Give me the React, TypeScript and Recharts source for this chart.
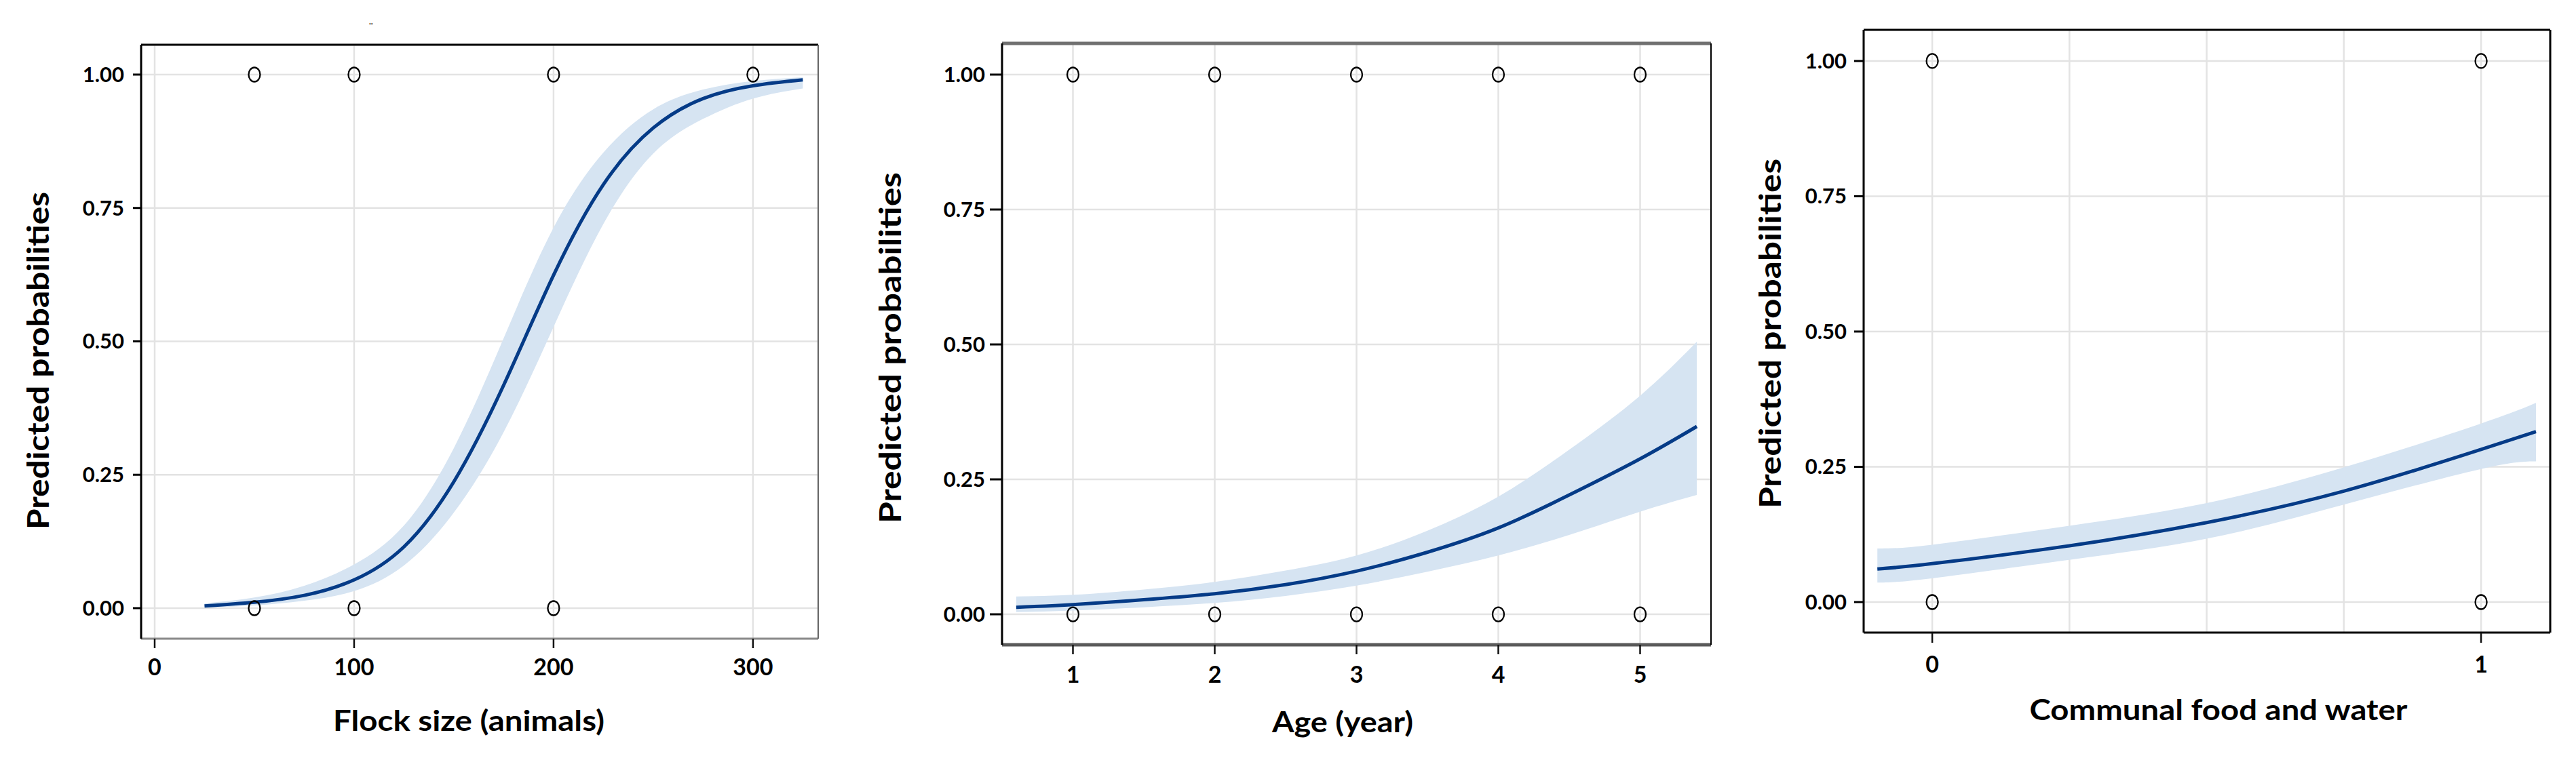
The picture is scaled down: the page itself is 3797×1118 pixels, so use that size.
import React from 'react';
import { ComposedChart, Line, Area, Scatter, XAxis, YAxis, CartesianGrid, ReferenceLine, Label } from 'recharts';

const FONT = 'Lato, "Open Sans", "DejaVu Sans", sans-serif';

// ---------- Panel 1: Flock size ----------
const flockX = [25, 50, 75, 100, 125, 150, 175, 200, 225, 250, 275, 300, 325];
const flockP = [0.004, 0.011, 0.024, 0.053, 0.115, 0.237, 0.418, 0.624, 0.794, 0.9, 0.955, 0.979, 0.99];
const flockLo = [0.001, 0.005, 0.014, 0.032, 0.08, 0.179, 0.33, 0.527, 0.72, 0.852, 0.917, 0.955, 0.974];
const flockHi = [0.009, 0.02, 0.042, 0.082, 0.155, 0.3, 0.506, 0.713, 0.854, 0.935, 0.972, 0.988, 0.995];
const flockObsX = [50, 100, 200, 300, 50, 100, 200];
const flockObsY = [1, 1, 1, 1, 0, 0, 0];
const flockTicks = [0, 100, 200, 300];
const flockTickLabels = ['0', '100', '200', '300'];

// ---------- Panel 2: Age ----------
const ageX = [0.6, 1, 1.5, 2, 2.5, 3, 3.5, 4, 4.5, 5, 5.4];
const ageP = [0.013, 0.018, 0.027, 0.038, 0.055, 0.08, 0.115, 0.16, 0.221, 0.288, 0.348];
const ageLo = [0.004, 0.007, 0.013, 0.021, 0.034, 0.053, 0.079, 0.109, 0.147, 0.19, 0.221];
const ageHi = [0.033, 0.036, 0.046, 0.06, 0.081, 0.109, 0.155, 0.218, 0.305, 0.405, 0.505];
const ageObsX = [1, 2, 3, 4, 5, 1, 2, 3, 4, 5];
const ageObsY = [1, 1, 1, 1, 1, 0, 0, 0, 0, 0];
const ageTicks = [1, 2, 3, 4, 5];
const ageTickLabels = ['1', '2', '3', '4', '5'];

// ---------- Panel 3: Communal food and water ----------
const commX = [-0.1, 0, 0.25, 0.5, 0.75, 1, 1.1];
const commP = [0.061, 0.071, 0.104, 0.147, 0.205, 0.282, 0.315];
const commLo = [0.036, 0.044, 0.078, 0.117, 0.18, 0.246, 0.26];
const commHi = [0.099, 0.106, 0.141, 0.183, 0.249, 0.33, 0.368];
const commObsX = [0, 1, 0, 1];
const commObsY = [1, 1, 0, 0];
const commTicks = [0, 0.25, 0.5, 0.75, 1];
const commTickLabels = ['0', '', '', '', '1'];

// ---------- shared ----------
const probTicks = [0, 0.25, 0.5, 0.75, 1];
const probLabels = ['0.00', '0.25', '0.50', '0.75', '1.00'];
const yTitleText = 'Predicted probabilities';

const buildCurve = (xs: number[], p: number[], lo: number[], hi: number[]) =>
  xs.map((x, i) => ({ x, p: p[i], band: [lo[i], hi[i]] }));
const buildPoints = (xs: number[], ys: number[]) => xs.map((x, i) => ({ x, y: ys[i] }));

const Ring = (props: any) => (
  <ellipse cx={props.cx} cy={props.cy} rx={8.5} ry={10.5} fill="none" stroke="#000" strokeWidth={2.3} />
);

type Edge = { c: string; w: number };
type Cfg = {
  left: number; width: number; L: number; R: number; T: number; B: number;
  xDomain: [number, number]; yDomain: [number, number];
  yTickSize: number; yTickMargin: number; xTickSize: number; xTickMargin: number;
  yTitleX: number; yTitleY: number; yTitleLen: number;
  xTitle: string; xTitleX: number; xTitleY: number; xTitleLen: number;
  frame: { top: Edge; bottom: Edge; left: Edge; right: Edge };
};

const cfg1: Cfg = {
  left: 0, width: 1250, L: 208, R: 1206, T: 66, B: 942,
  xDomain: [-6.8, 332.7], yDomain: [-0.0572, 1.0559],
  yTickSize: 12, yTickMargin: 13, xTickSize: 14, xTickMargin: 16,
  yTitleX: 72, yTitleY: 532, yTitleLen: 498,
  xTitle: 'Flock size (animals)', xTitleX: 691, xTitleY: 1078, xTitleLen: 400,
  frame: { top: { c: '#000', w: 3 }, left: { c: '#000', w: 3 }, right: { c: '#666', w: 2 }, bottom: { c: '#8a8a8a', w: 3 } },
};
const cfg2: Cfg = {
  left: 1250, width: 1280, L: 1477, R: 2522, T: 64, B: 951,
  xDomain: [0.5, 5.5], yDomain: [-0.0565, 1.0578],
  yTickSize: 18, yTickMargin: 7, xTickSize: 14, xTickMargin: 18,
  yTitleX: 78, yTitleY: 513, yTitleLen: 518,
  xTitle: 'Age (year)', xTitleX: 729, xTitleY: 1080, xTitleLen: 208,
  frame: { top: { c: '#707070', w: 5 }, left: { c: '#000', w: 3 }, right: { c: '#000', w: 2 }, bottom: { c: '#5a5a5a', w: 5 } },
};
const cfg3: Cfg = {
  left: 2540, width: 1257, L: 2747, R: 3759, T: 44, B: 933,
  xDomain: [-0.125, 1.126], yDomain: [-0.0564, 1.0576],
  yTickSize: 14, yTickMargin: 11, xTickSize: 15, xTickMargin: 20,
  yTitleX: 85, yTitleY: 492, yTitleLen: 516,
  xTitle: 'Communal food and water', xTitleX: 730, xTitleY: 1062, xTitleLen: 557,
  frame: { top: { c: '#000', w: 3 }, left: { c: '#000', w: 3 }, right: { c: '#000', w: 3 }, bottom: { c: '#000', w: 3 } },
};

function Panel({ cfg, curve, points, xTicks, xTickLabels }: any) {
  const c: Cfg = cfg;
  const H = 1118;
  const yAxisW = c.L - c.left;
  const xAxisH = H - c.B;
  const right = c.left + c.width - c.R;

  const YTick = (props: any) => {
    const idx = probTicks.indexOf(props.payload.value);
    return (
      <text x={props.x} y={props.y} dy={11} textAnchor="end" fontFamily={FONT} fontWeight={700} fontSize={31} fill="#000">
        {idx >= 0 ? probLabels[idx] : ''}
      </text>
    );
  };
  const XTick = (props: any) => {
    const idx = xTicks.indexOf(props.payload.value);
    const lab = idx >= 0 ? xTickLabels[idx] : '';
    if (!lab) return <g />;
    const yTop = props.y - c.xTickMargin - c.xTickSize;
    return (
      <g>
        <line x1={props.x} x2={props.x} y1={yTop} y2={yTop + c.xTickSize} stroke="#111" strokeWidth={2.5} />
        <text x={props.x} y={props.y} dy={24} textAnchor="middle" fontFamily={FONT} fontWeight={700} fontSize={34} fill="#000">
          {lab}
        </text>
      </g>
    );
  };
  const yTitle = () => {
    const x = c.yTitleX;
    const y = c.yTitleY;
    return (
      <text x={x} y={y} transform={`rotate(-90 ${x} ${y})`} textAnchor="middle" fontFamily={FONT} fontWeight={700}
        fontSize={44} fill="#000" textLength={c.yTitleLen} lengthAdjust="spacingAndGlyphs">
        {yTitleText}
      </text>
    );
  };
  const xTitle = () => (
    <text x={c.xTitleX} y={c.xTitleY} textAnchor="middle" fontFamily={FONT} fontWeight={700} fontSize={42} fill="#000"
      textLength={c.xTitleLen} lengthAdjust="spacingAndGlyphs">
      {c.xTitle}
    </text>
  );

  return (
    <div style={{ position: 'absolute', left: c.left, top: 0, width: c.width, height: H }}>
      <ComposedChart width={c.width} height={H} data={curve} margin={{ top: c.T, right, bottom: 0, left: 0 }}>
        <CartesianGrid stroke="#e3e3e3" strokeWidth={2.5} />
        <XAxis type="number" dataKey="x" domain={c.xDomain} ticks={xTicks} interval={0} allowDataOverflow
          height={xAxisH} axisLine={false} tickLine={false} tickSize={c.xTickSize} tickMargin={c.xTickMargin} tick={XTick}>
          <Label content={xTitle} />
        </XAxis>
        <YAxis type="number" domain={c.yDomain} ticks={probTicks} interval={0} allowDataOverflow width={yAxisW}
          axisLine={false} tickLine={{ stroke: '#000', strokeWidth: 3 }} tickSize={c.yTickSize} tickMargin={c.yTickMargin} tick={YTick}>
          <Label content={yTitle} />
        </YAxis>
        <Area dataKey="band" type="natural" stroke="none" fill="#d6e4f2" fillOpacity={1} isAnimationActive={false} />
        <Scatter data={points} dataKey="y" shape={Ring} isAnimationActive={false} />
        <Line dataKey="p" type="natural" stroke="#053b87" strokeWidth={5} dot={false} activeDot={false} isAnimationActive={false} />
        <ReferenceLine y={c.yDomain[1]} stroke={c.frame.top.c} strokeWidth={c.frame.top.w} />
        <ReferenceLine y={c.yDomain[0]} stroke={c.frame.bottom.c} strokeWidth={c.frame.bottom.w} />
        <ReferenceLine x={c.xDomain[0]} stroke={c.frame.left.c} strokeWidth={c.frame.left.w} />
        <ReferenceLine x={c.xDomain[1]} stroke={c.frame.right.c} strokeWidth={c.frame.right.w} />
      </ComposedChart>
    </div>
  );
}

export default function App() {
  const curve1 = buildCurve(flockX, flockP, flockLo, flockHi);
  const curve2 = buildCurve(ageX, ageP, ageLo, ageHi);
  const curve3 = buildCurve(commX, commP, commLo, commHi);
  return (
    <div style={{ position: 'absolute', left: 0, top: 0, width: 3797, height: 1118, background: '#fff', overflow: 'hidden' }}>
      <Panel cfg={cfg1} curve={curve1} points={buildPoints(flockObsX, flockObsY)} xTicks={flockTicks} xTickLabels={flockTickLabels} />
      <Panel cfg={cfg2} curve={curve2} points={buildPoints(ageObsX, ageObsY)} xTicks={ageTicks} xTickLabels={ageTickLabels} />
      <Panel cfg={cfg3} curve={curve3} points={buildPoints(commObsX, commObsY)} xTicks={commTicks} xTickLabels={commTickLabels} />
      <div style={{ position: 'absolute', left: 544, top: 32, fontFamily: FONT, fontSize: 14, fontWeight: 700, lineHeight: '14px' }}>¨</div>
    </div>
  );
}
